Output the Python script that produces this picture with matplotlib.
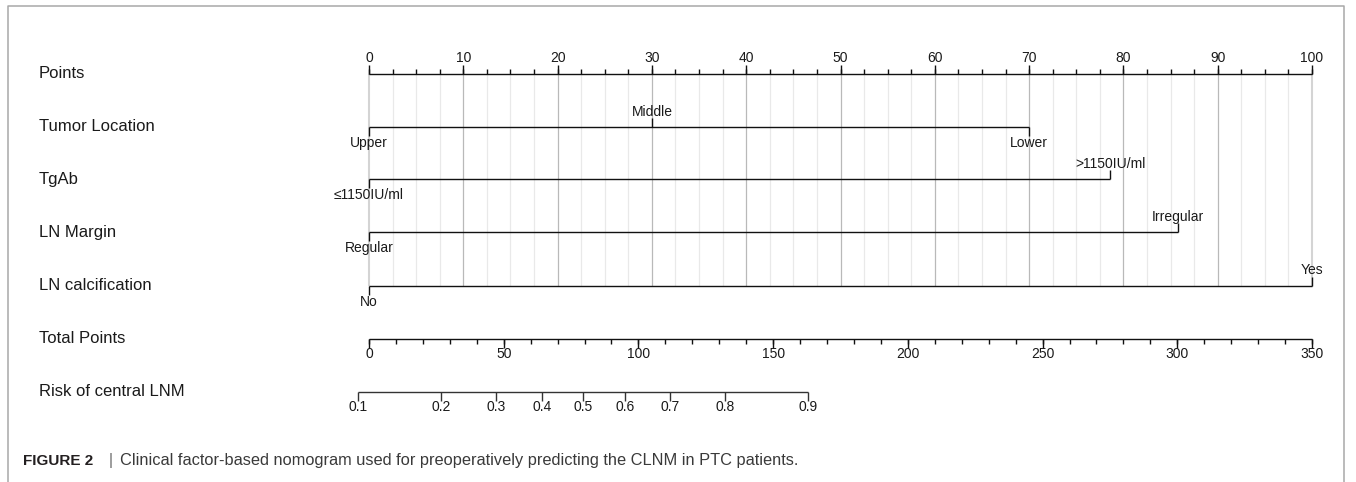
import matplotlib.pyplot as plt
from matplotlib.transforms import blended_transform_factory

plt.rcParams['font.family'] = ['Liberation Sans', 'DejaVu Sans']

# nomogram data (points per level)
row_names = ['Points', 'Tumor Location', 'TgAb', 'LN Margin', 'LN calcification',
             'Total Points', 'Risk of central LNM']

tumor_levels = ['Upper', 'Middle', 'Lower']
tumor_pts = [0, 30, 70]
tgab_levels = ['\u22641150IU/ml', '>1150IU/ml']
tgab_pts = [0, 78.6]
margin_levels = ['Regular', 'Irregular']
margin_pts = [0, 85.8]
calc_levels = ['No', 'Yes']
calc_pts = [0, 100]

points_major = [0, 10, 20, 30, 40, 50, 60, 70, 80, 90, 100]
points_minor = [i * 2.5 for i in range(41)]
total_major = [0, 50, 100, 150, 200, 250, 300, 350]
total_minor = [0, 10, 20, 30, 40, 50, 60, 70, 80, 90, 100, 110, 120, 130, 140, 150, 160, 170,
               180, 190, 200, 210, 220, 230, 240, 250, 260, 270, 280, 290, 300, 310, 320,
               330, 340, 350]
max_total = 350

risk_labels = ['0.1', '0.2', '0.3', '0.4', '0.5', '0.6', '0.7', '0.8', '0.9']
risk_total = [-4.1, 26.8, 47.3, 64.2, 79.5, 95.0, 111.7, 132.1, 163.0]

caption_head = 'FIGURE 2'
caption_body = ('Clinical factor-based nomogram used for preoperatively predicting '
                'the CLNM in PTC patients.')

# layout (pixels)
W, H = 1356, 482
x0 = 369
px_per_pt = 9.43
row_y = [73.5, 126.7, 179.3, 232.3, 285.5, 338.7, 391.7]

fig = plt.figure(figsize=(W / 100, H / 100), dpi=100)
ax = fig.add_axes([0, 0, 1, 1])
ax.set_xlim(-x0 / px_per_pt, (W - x0) / px_per_pt)
ax.set_ylim(H, 0)
ax.axis('off')

lab_tr = blended_transform_factory(ax.transAxes, ax.transData)

# frame
ax.plot([8 / W, 8 / W, 1344 / W, 1344 / W], [H + 5, 6, 6, H + 5], transform=lab_tr,
        color='#a8a8a8', lw=1.1, clip_on=False)

# row labels
for name, y in zip(row_names, row_y):
    ax.text(39 / W, y, name, transform=lab_tr, fontsize=12, va='center', ha='left',
            color='#1a1a1a')

# grid
ytop, ybot = row_y[0], row_y[4]
for p in points_minor:
    if p % 10 == 0:
        continue
    ax.vlines(p, ytop, ybot, color='#e9e9e9', lw=0.9, zorder=0)
for p in points_major:
    c = '#d4d4d4' if p in (0, 100) else '#b9b9b9'
    w = 1.5 if p in (0, 100) else 0.9
    ax.vlines(p, ytop, ybot, color=c, lw=w, zorder=0)

line_kw = dict(color='#111111', lw=1.0, zorder=3)

# points axis
y = row_y[0]
ax.hlines(y, 0, 100, **line_kw)
for p in points_minor:
    ax.vlines(p, y - 5, y, **line_kw)
for p in points_major:
    ax.vlines(p, y - 9, y, **line_kw)
    ax.text(p, y - 15, str(p), fontsize=10, ha='center', va='center', color='#1a1a1a')

# categorical rows: first label below, then alternating above/below
def cat_row(y, levels, pts, sides):
    ax.hlines(y, min(pts), max(pts), **line_kw)
    for lev, p, s in zip(levels, pts, sides):
        if s == 'down':
            ax.vlines(p, y, y + 9, **line_kw)
            ax.text(p, y + 16, lev, fontsize=10, ha='center', va='center', color='#1a1a1a')
        else:
            ax.vlines(p, y - 9, y, **line_kw)
            ax.text(p, y - 15, lev, fontsize=10, ha='center', va='center', color='#1a1a1a')

cat_row(row_y[1], tumor_levels, tumor_pts, ['down', 'up', 'down'])
cat_row(row_y[2], tgab_levels, tgab_pts, ['down', 'up'])
cat_row(row_y[3], margin_levels, margin_pts, ['down', 'up'])
cat_row(row_y[4], calc_levels, calc_pts, ['down', 'up'])

# total points axis
scale = 100 / max_total
y = row_y[5]
ax.hlines(y, 0, max_total * scale, **line_kw)
for t in total_minor:
    ax.vlines(t * scale, y, y + 5, **line_kw)
for t in total_major:
    ax.vlines(t * scale, y, y + 9, **line_kw)
    ax.text(t * scale, y + 15.6, str(t), fontsize=10, ha='center', va='center', color='#1a1a1a')

# risk axis
y = row_y[6]
ax.hlines(y, risk_total[0] * scale, risk_total[-1] * scale, color='#333333', lw=1.0)
for lab, t in zip(risk_labels, risk_total):
    ax.vlines(t * scale, y, y + 9, color='#333333', lw=1.0)
    ax.text(t * scale, y + 15.6, lab, fontsize=10, ha='center', va='center', color='#1a1a1a')

# caption
cy = 461
ax.text(23 / W, cy, caption_head, transform=lab_tr, fontsize=11, fontweight='bold',
        ha='left', va='center', color='#231f20')
ax.text(109 / W, cy, '|', transform=lab_tr, fontsize=11.5, ha='left', va='center',
        color='#666666')
ax.text(120 / W, cy, caption_body, transform=lab_tr, fontsize=11.8, ha='left', va='center',
        color='#3a3a3a')

fig.savefig('out.png', dpi=100)
